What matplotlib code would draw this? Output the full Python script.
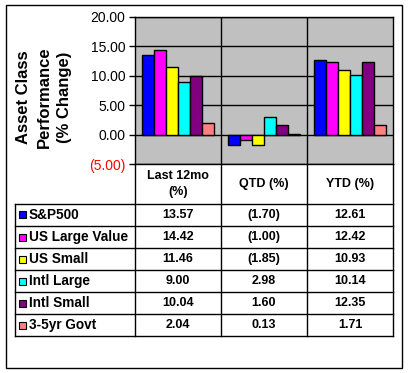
import matplotlib
matplotlib.use("Agg")
import matplotlib.pyplot as plt
import numpy as np

# data
periods = ["Last 12mo\n(%)", "QTD (%)", "YTD (%)"]
assets = ["S&P500", "US Large Value", "US Small", "Intl Large", "Intl Small", "3-5yr Govt"]
last_12mo = [13.57, 14.42, 11.46, 9.00, 10.04, 2.04]
qtd = [-1.70, -1.00, -1.85, 2.98, 1.60, 0.13]
ytd = [12.61, 12.42, 10.93, 10.14, 12.35, 1.71]
colors = ["#0000FF", "#FF00FF", "#FFFF00", "#00FFFF", "#800080", "#FF8080"]
yticks = [-5, 0, 5, 10, 15, 20]

W, H = 408, 373
plt.rcParams["font.family"] = ["Liberation Sans", "DejaVu Sans"]
fig = plt.figure(figsize=(W / 100, H / 100), dpi=100)


def fx(px):
    return px / W


def fy(py):
    return 1 - py / H


def fmt(v):
    return "(%.2f)" % abs(v) if v < 0 else "%.2f" % v


# plot area
left, right, top, bottom = 135, 393, 17, 164
ax = fig.add_axes([fx(left), fy(bottom), fx(right - left), (bottom - top) / H])
ax.set_facecolor("#C0C0C0")

series = list(zip(last_12mo, qtd, ytd))
n = len(assets)
bw = 0.14
x = np.arange(len(periods))
for i in range(n):
    ax.bar(x - bw * (n - 1) / 2 + i * bw, series[i], width=bw, color=colors[i],
           edgecolor="black", linewidth=1, zorder=3)

ax.set_xlim(-0.5, len(periods) - 0.5)
ax.set_ylim(-5, 20)
ax.set_yticks(yticks)
ax.set_yticklabels([fmt(v) for v in yticks], fontsize=10)
ax.get_yticklabels()[0].set_color("red")
ax.tick_params(axis="y", length=4, width=1, pad=3)
ax.set_xticks([])
for v in yticks:
    ax.axhline(v, color="black", linewidth=1, zorder=1)
for b in [0.5, 1.5]:
    ax.axvline(b, color="black", linewidth=1, zorder=1)
for s in ax.spines.values():
    s.set_linewidth(1)

fig.text(fx(44), fy(97), "Asset Class\nPerformance\n(% Change)", rotation=90,
         ha="center", va="center", fontsize=12, fontweight="bold", linespacing=1.45)

# table drawn below the chart
col_x = [135, 221, 307, 393]
row_y = [204 + 22 * k for k in range(n + 1)]
lkw = dict(color="black", linewidth=1)
for cx in col_x:
    fig.add_artist(plt.Line2D([fx(cx)] * 2, [fy(bottom), fy(row_y[-1])], **lkw))
fig.add_artist(plt.Line2D([fx(15.5)] * 2, [fy(row_y[0]), fy(row_y[-1])], **lkw))
for ry in row_y:
    fig.add_artist(plt.Line2D([fx(15.5), fx(393)], [fy(ry)] * 2, **lkw))

for j, p in enumerate(periods):
    fig.text(fx((col_x[j] + col_x[j + 1]) / 2), fy((bottom + row_y[0]) / 2), p,
             ha="center", va="center", fontsize=9, fontweight="bold", linespacing=1.4)

for i, name in enumerate(assets):
    cy = (row_y[i] + row_y[i + 1]) / 2
    fig.add_artist(plt.Rectangle((fx(19), fy(cy + 3.5)), 7 / W, 7 / H,
                                 facecolor=colors[i], edgecolor="black", linewidth=0.8))
    fig.text(fx(29), fy(cy), name, ha="left", va="center", fontsize=9.8, fontweight="bold")
    for j in range(len(periods)):
        fig.text(fx((col_x[j] + col_x[j + 1]) / 2), fy(cy), fmt(series[i][j]),
                 ha="center", va="center", fontsize=9, fontweight="bold")

# outer border
fig.add_artist(plt.Rectangle((fx(6), fy(368)), 396 / W, 363 / H, fill=False,
                             edgecolor="black", linewidth=1))

fig.savefig("out.png", dpi=100)
